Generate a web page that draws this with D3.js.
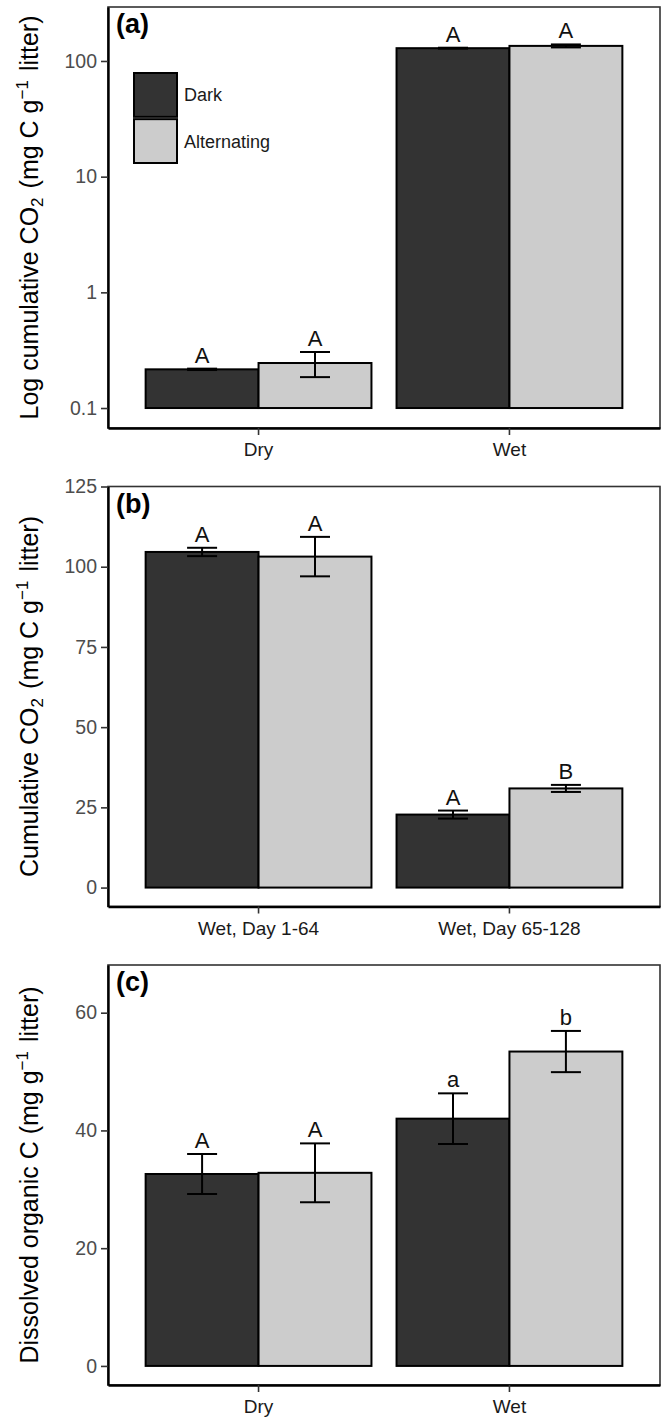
<!DOCTYPE html>
<html>
<head>
<meta charset="utf-8">
<script src="https://cdn.jsdelivr.net/npm/d3@7"></script>
<style>
  body { margin: 0; background: #fff; }
  text { font-family: "Liberation Sans", Arial, sans-serif; }
</style>
</head>
<body>
<svg width="662" height="1427"></svg>
<script>
// ---- data ----
var treatments = ['Dark', 'Alternating'];

var catsA = ['Dry', 'Wet'];
var darkA = [0.216, 129];
var darkSeA = [0.003, 1.2];
var altA = [0.245, 135];
var altSeA = [0.06, 4];
var lettersDarkA = ['A', 'A'];
var lettersAltA = ['A', 'A'];
var ticksA = [0.1, 1, 10, 100];

var catsB = ['Wet, Day 1-64', 'Wet, Day 65-128'];
var darkB = [104.6, 22.75];
var darkSeB = [1.3, 1.25];
var altB = [103.15, 30.9];
var altSeB = [6.15, 1.1];
var lettersDarkB = ['A', 'A'];
var lettersAltB = ['A', 'B'];
var ticksB = [0, 25, 50, 75, 100, 125];

var catsC = ['Dry', 'Wet'];
var darkC = [32.6, 42.0];
var darkSeC = [3.4, 4.3];
var altC = [32.8, 53.4];
var altSeC = [5.0, 3.5];
var lettersDarkC = ['A', 'a'];
var lettersAltC = ['A', 'b'];
var ticksC = [0, 20, 40, 60];

var fills = ['#333333', '#CCCCCC'];

var svg = d3.select('svg');
var left = 108, right = 660;

function rows(cats, dark, darkSe, alt, altSe, ldark, lalt) {
  var out = [];
  cats.forEach(function(c, i) {
    out.push({cat: c, grp: 'Dark', mean: dark[i], se: darkSe[i], lab: ldark[i]});
    out.push({cat: c, grp: 'Alternating', mean: alt[i], se: altSe[i], lab: lalt[i]});
  });
  return out;
}

// title helper: parts are [text, 'n'|'sub'|'sup']
function title(g, x, y, parts) {
  var t = g.append('text')
    .attr('transform', 'translate(' + x + ',' + y + ') rotate(-90)')
    .attr('text-anchor', 'middle')
    .attr('font-size', 25)
    .attr('fill', '#000');
  parts.forEach(function(p) {
    if (p[1] === 'n') {
      t.append('tspan').text(p[0]);
    } else {
      var shift = p[1] === 'sub' ? 5 : -10;
      t.append('tspan').attr('dy', shift).attr('font-size', 17).text(p[0]);
      t.append('tspan').attr('dy', -shift).text('\u200A');
    }
  });
}

function panel(opt) {
  var g = svg.append('g');
  var x = d3.scaleBand().domain(opt.cats).range([left, right])
    .paddingInner(0.1).paddingOuter(0.15);
  var xs = d3.scaleBand().domain(treatments).range([0, x.bandwidth()]);
  var y = opt.y;
  var base = opt.base;
  var data = rows(opt.cats, opt.dark, opt.darkSe, opt.alt, opt.altSe, opt.ldark, opt.lalt);

  // bars
  g.selectAll('rect.bar').data(data).enter().append('rect')
    .attr('x', function(d) { return x(d.cat) + xs(d.grp); })
    .attr('width', xs.bandwidth())
    .attr('y', function(d) { return y(d.mean); })
    .attr('height', function(d) { return y(base) - y(d.mean); })
    .attr('fill', function(d) { return fills[treatments.indexOf(d.grp)]; })
    .attr('stroke', '#000')
    .attr('stroke-width', 2);

  // error bars
  var cap = 15;
  var eb = g.selectAll('g.eb').data(data).enter().append('g')
    .attr('transform', function(d) { return 'translate(' + (x(d.cat) + xs(d.grp) + xs.bandwidth() / 2) + ',0)'; })
    .attr('stroke', '#000').attr('stroke-width', 2);
  eb.append('line').attr('x1', 0).attr('x2', 0)
    .attr('y1', function(d) { return y(d.mean + d.se); })
    .attr('y2', function(d) { return y(d.mean - d.se); });
  eb.append('line').attr('x1', -cap).attr('x2', cap)
    .attr('y1', function(d) { return y(d.mean + d.se); })
    .attr('y2', function(d) { return y(d.mean + d.se); });
  eb.append('line').attr('x1', -cap).attr('x2', cap)
    .attr('y1', function(d) { return y(d.mean - d.se); })
    .attr('y2', function(d) { return y(d.mean - d.se); });

  // letters
  g.selectAll('text.lab').data(data).enter().append('text')
    .attr('x', function(d) { return x(d.cat) + xs(d.grp) + xs.bandwidth() / 2; })
    .attr('y', function(d) { return y(d.mean + d.se) - 6; })
    .attr('text-anchor', 'middle')
    .attr('font-size', 22)
    .attr('fill', '#111')
    .text(function(d) { return d.lab; });

  var top = y.range()[1], bottom = y.range()[0];

  // frame
  g.append('rect').attr('x', left).attr('y', top)
    .attr('width', right - left).attr('height', bottom - top)
    .attr('fill', 'none').attr('stroke', '#333').attr('stroke-width', 1.6);

  // y axis
  var ya = g.append('g').attr('transform', 'translate(' + left + ',0)')
    .call(d3.axisLeft(y).tickValues(opt.ticks).tickSize(7).tickSizeOuter(0).tickPadding(4)
      .tickFormat(opt.fmt || d3.format('d')));
  ya.select('.domain').attr('stroke', '#000').attr('stroke-width', 2.4);
  ya.selectAll('.tick line').attr('stroke', '#333').attr('stroke-width', 1.6);
  ya.selectAll('.tick text').attr('font-size', 19.5).attr('fill', '#4D4D4D')
    .attr('font-family', '"Liberation Sans", Arial, sans-serif');

  // x axis
  var xa = g.append('g').attr('transform', 'translate(0,' + bottom + ')')
    .call(d3.axisBottom(x).tickSize(7).tickPadding(8).tickSizeOuter(0));
  xa.select('.domain').attr('stroke', '#000').attr('stroke-width', 2.4);
  xa.selectAll('.tick line').attr('stroke', '#333').attr('stroke-width', 1.6);
  xa.selectAll('.tick text').attr('font-size', 19).attr('fill', '#1a1a1a')
    .attr('font-family', '"Liberation Sans", Arial, sans-serif');

  // panel tag
  g.append('text').attr('x', 116).attr('y', top + 26)
    .attr('font-size', 27).attr('font-weight', 'bold').attr('fill', '#000')
    .text(opt.tag);

  title(g, 38, (top + bottom) / 2, opt.title);
  return g;
}

var gA = panel({
  cats: catsA, dark: darkA, darkSe: darkSeA, alt: altA, altSe: altSeA,
  ldark: lettersDarkA, lalt: lettersAltA, ticks: ticksA, base: 0.1,
  y: d3.scaleLog().domain([0.0672, 292.8]).range([428, 7]),
  fmt: function(d) { return d < 1 ? d3.format('.1f')(d) : d3.format('d')(d); },
  tag: '(a)',
  title: [['Log cumulative CO', 'n'], ['2', 'sub'], [' (mg C g', 'n'], ['\u22121', 'sup'], [' litter)', 'n']]
});

panel({
  cats: catsB, dark: darkB, darkSe: darkSeB, alt: altB, altSe: altSeB,
  ldark: lettersDarkB, lalt: lettersAltB, ticks: ticksB, base: 0,
  y: d3.scaleLinear().domain([-5.9, 125]).range([906.5, 486.5]),
  tag: '(b)',
  title: [['Cumulative CO', 'n'], ['2', 'sub'], [' (mg C g', 'n'], ['\u22121', 'sup'], [' litter)', 'n']]
});

panel({
  cats: catsC, dark: darkC, darkSe: darkSeC, alt: altC, altSe: altSeC,
  ldark: lettersDarkC, lalt: lettersAltC, ticks: ticksC, base: 0,
  y: d3.scaleLinear().domain([-3.24, 68.1]).range([1385, 965]),
  tag: '(c)',
  title: [['Dissolved organic C (mg g', 'n'], ['\u22121', 'sup'], [' litter)', 'n']]
});

// legend in panel (a)
var lg = gA.append('g').attr('transform', 'translate(134,73)');
var key = d3.scaleBand().domain(treatments).range([0, 90]).paddingInner(0.05);
lg.selectAll('rect').data(treatments).enter().append('rect')
  .attr('x', 0).attr('y', function(d) { return key(d); })
  .attr('width', 43).attr('height', key.bandwidth())
  .attr('fill', function(d, i) { return fills[i]; })
  .attr('stroke', '#000').attr('stroke-width', 2);
lg.selectAll('text').data(treatments).enter().append('text')
  .attr('x', 50).attr('y', function(d) { return key(d) + key.bandwidth() / 2; })
  .attr('dy', '0.36em').attr('font-size', 18).attr('fill', '#1a1a1a')
  .text(function(d) { return d; });
</script>
</body>
</html>
